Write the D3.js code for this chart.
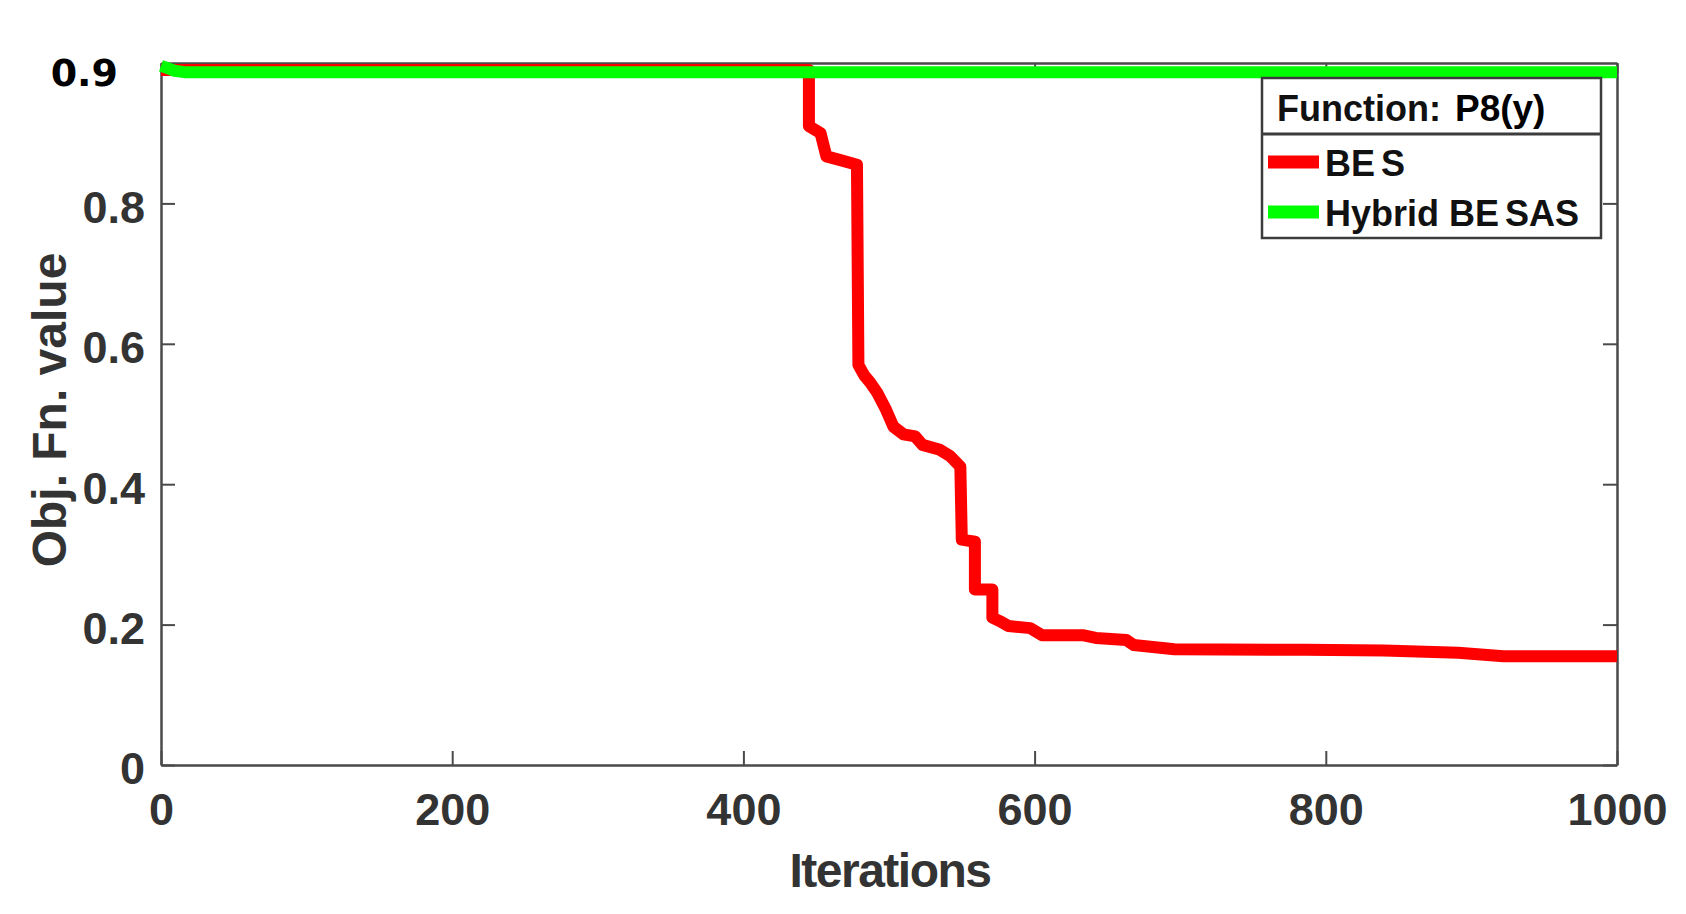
<!DOCTYPE html>
<html>
<head>
<meta charset="utf-8">
<script src="https://cdn.jsdelivr.net/npm/d3@7"></script>
<style>
  body { margin: 0; background: #fff; }
  svg { display: block; background: #fff; }
  .axis path, .axis line { stroke: #4a4a4a; }
  .axis path { stroke-width: 2.5; }
  .axis line { stroke-width: 2; }
  .axis text {
    font-family: "Liberation Sans", Arial, sans-serif;
    font-weight: bold;
    font-size: 45px;
    fill: #333;
  }
  .title { font-family: "Liberation Sans", Arial, sans-serif; font-weight: bold; fill: #333; }
  .legend text { font-family: "Liberation Sans", Arial, sans-serif; font-weight: bold; fill: #111; }
</style>
</head>
<body>
<div id="chart"></div>
<script>
const xTicks = [0, 200, 400, 600, 800, 1000];
const yTicks = [0, 0.2, 0.4, 0.6, 0.8];
const yTopLabel = "0.9";

const besIter = [0, 445, 445, 449, 453, 457, 466, 478, 479, 483,
  487, 492, 498, 503, 510, 518, 523, 535, 542, 549,
  550, 559, 559, 571, 571, 576, 582, 597, 605, 633,
  642, 663, 668, 696, 786, 840, 891, 922, 1000];
const besValue = [0.99, 0.99, 0.91, 0.905, 0.90, 0.867, 0.862, 0.855, 0.57, 0.555,
  0.545, 0.53, 0.506, 0.482, 0.471, 0.468, 0.456, 0.449, 0.44, 0.425,
  0.321, 0.318, 0.25, 0.25, 0.21, 0.205, 0.198, 0.195, 0.185, 0.185,
  0.181, 0.178, 0.171, 0.165, 0.164, 0.163, 0.16, 0.155, 0.155];

const hybridIter = [0, 4, 9, 16, 1000];
const hybridValue = [0.996, 0.993, 0.989, 0.987, 0.987];

const seriesNames = [["BE", "S"], ["Hybrid BE", "SAS"]];
const seriesColors = ["#ff0000", "#00ff00"];
const legendTitle = "Function:";
const legendFn = "P8(y)";
const xTitle = "Iterations";
const yTitle = "Obj. Fn. value";

const margin = {top: 63, right: 69, bottom: 149, left: 161};
const width = 1686 - margin.left - margin.right;
const height = 914 - margin.top - margin.bottom;

const svg = d3.select("#chart").append("svg")
  .attr("width", 1686)
  .attr("height", 914);

const g = svg.append("g")
  .attr("transform", "translate(" + margin.left + "," + margin.top + ")");

const x = d3.scaleLinear().domain([0, 1000]).range([0, width]);
const y = d3.scaleLinear().domain([0, 1]).range([height, 0]);

// box with mirrored inward ticks, like matlab
g.append("g")
  .attr("class", "axis")
  .attr("transform", "translate(0," + height + ")")
  .call(d3.axisBottom(x).tickValues(xTicks).tickSizeInner(-14).tickSizeOuter(0)
    .tickPadding(28).tickFormat(d3.format("d")));

g.append("g")
  .attr("class", "axis")
  .call(d3.axisTop(x).tickValues(xTicks).tickSizeInner(-10).tickSizeOuter(0).tickFormat(""));

g.append("g")
  .attr("class", "axis")
  .call(d3.axisLeft(y).tickValues(yTicks).tickSizeInner(-14).tickSizeOuter(0)
    .tickPadding(16).tickFormat(function (d) { return d === 0 ? "0" : d3.format(".1f")(d); }))
  .selectAll("text")
  .attr("dy", "0.42em");

g.append("g")
  .attr("class", "axis")
  .attr("transform", "translate(" + width + ",0)")
  .call(d3.axisRight(y).tickValues(yTicks).tickSizeInner(-14).tickSizeOuter(0).tickFormat(""));

// the odd black label pasted at the top
svg.append("text")
  .attr("x", 118)
  .attr("y", margin.top + y(1) + 23)
  .attr("text-anchor", "end")
  .style("font-family", "'DejaVu Sans', sans-serif")
  .style("font-weight", "bold")
  .style("font-size", "38px")
  .style("fill", "#000")
  .text(yTopLabel);

const line = d3.line()
  .x(function (d) { return x(d[0]); })
  .y(function (d) { return y(d[1]); });

const besData = besIter.map(function (it, i) { return [it, besValue[i]]; });
const hybridData = hybridIter.map(function (it, i) { return [it, hybridValue[i]]; });

[besData, hybridData].forEach(function (data, i) {
  g.append("path")
    .attr("d", line(data))
    .attr("fill", "none")
    .attr("stroke", seriesColors[i])
    .attr("stroke-width", 12)
    .attr("stroke-linejoin", "round")
    .attr("stroke-linecap", "butt");
});

// axis titles
svg.append("text")
  .attr("class", "title")
  .attr("x", 890)
  .attr("y", 887)
  .attr("text-anchor", "middle")
  .style("font-size", "48px")
  .style("letter-spacing", "-1.5px")
  .text(xTitle);

svg.append("text")
  .attr("class", "title")
  .attr("transform", "translate(66,410) rotate(-90)")
  .attr("text-anchor", "middle")
  .style("font-size", "48px")
  .text(yTitle);

// legend
const legend = svg.append("g").attr("class", "legend");
const lx = 1262, ly = 78, lw = 339, lh = 160;

legend.append("rect")
  .attr("x", lx).attr("y", ly)
  .attr("width", lw).attr("height", lh)
  .attr("fill", "#fff")
  .attr("stroke", "#3c3c3c")
  .attr("stroke-width", 2.5);

legend.append("line")
  .attr("x1", lx).attr("x2", lx + lw)
  .attr("y1", ly + 56).attr("y2", ly + 56)
  .attr("stroke", "#3c3c3c")
  .attr("stroke-width", 3);

const lt = legend.append("text")
  .attr("x", lx + 15)
  .attr("y", ly + 43)
  .style("font-size", "36px");
lt.append("tspan").text(legendTitle);
lt.append("tspan").attr("dx", 14).style("font-size", "37px").style("fill", "#000").text(legendFn);

seriesNames.forEach(function (name, i) {
  const cy = ly + 84 + i * 50;
  legend.append("line")
    .attr("x1", lx + 6).attr("x2", lx + 57)
    .attr("y1", cy).attr("y2", cy)
    .attr("stroke", seriesColors[i])
    .attr("stroke-width", 13);
  const t = legend.append("text")
    .attr("x", lx + 63)
    .attr("y", cy + 14)
    .style("font-size", "36px");
  t.append("tspan").text(name[0]);
  t.append("tspan").attr("dx", 6).text(name[1]);
});
</script>
</body>
</html>
